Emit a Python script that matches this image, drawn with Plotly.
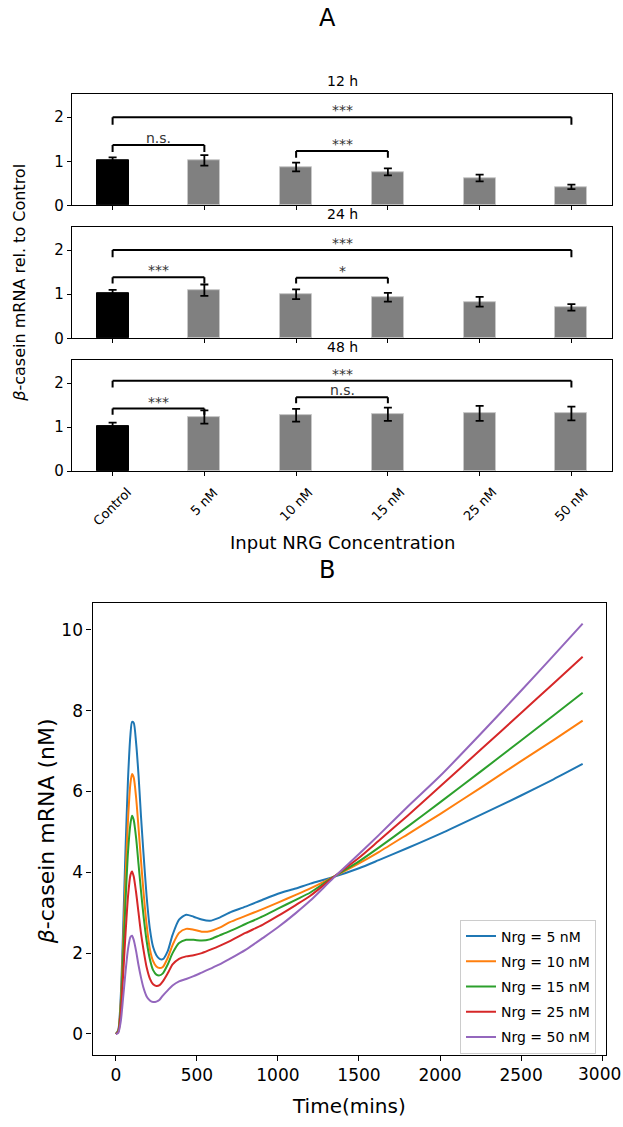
import plotly.graph_objects as go

W, H = 623, 1127
FONT = "DejaVu Sans"

# ---------------- Panel A data ----------------
categories = ["Control", "5 nM", "10 nM", "15 nM", "25 nM", "50 nM"]
timepoints = ["12 h", "24 h", "48 h"]

mean_12h = [1.02, 1.02, 0.87, 0.76, 0.62, 0.42]
err_12h = [0.07, 0.12, 0.10, 0.08, 0.075, 0.05]
mean_24h = [1.02, 1.09, 1.00, 0.93, 0.83, 0.70]
err_24h = [0.08, 0.13, 0.11, 0.10, 0.11, 0.075]
mean_48h = [1.03, 1.23, 1.27, 1.29, 1.31, 1.31]
err_48h = [0.07, 0.15, 0.145, 0.15, 0.17, 0.155]

# significance brackets: (from index, to index, top, leg bottom, label)
brackets_12h = [(0, 5, 2.00, 1.83, "***"), (0, 1, 1.37, 1.21, "n.s."), (2, 3, 1.23, 1.08, "***")]
brackets_24h = [(0, 5, 2.00, 1.84, "***"), (0, 1, 1.385, 1.24, "***"), (2, 3, 1.37, 1.24, "*")]
brackets_48h = [(0, 5, 2.05, 1.90, "***"), (0, 1, 1.42, 1.28, "***"), (2, 3, 1.68, 1.54, "n.s.")]

# ---------------- Panel B data ----------------
time_mins = [0, 15, 30, 45, 60, 75, 90, 100, 110, 125, 140, 155, 170, 190, 210, 230, 250, 270, 290,
             320, 350, 390, 434, 480, 530, 580, 640, 700, 800, 905, 1000, 1110, 1200, 1340, 1500,
             1622, 1800, 2000, 2250, 2500, 2700, 2880]
time_ticks = [0, 500, 1000, 1500, 2000, 2500, 3000]
nrg_labels = ["Nrg = 5 nM", "Nrg = 10 nM", "Nrg = 15 nM", "Nrg = 25 nM", "Nrg = 50 nM"]
mrna_5nM = [0, 0.1, 0.9, 2.6, 4.6, 6.3, 7.4, 7.72, 7.7, 7.2, 6.4, 5.4, 4.5, 3.4, 2.6, 2.15, 1.95, 1.86, 1.85,
            2.05, 2.45, 2.83, 2.95, 2.9, 2.83, 2.80, 2.88, 3.0, 3.15, 3.32, 3.47, 3.6, 3.72, 3.88, 4.10,
            4.30, 4.60, 4.95, 5.42, 5.90, 6.30, 6.68]
mrna_10nM = [0, 0.08, 0.75, 2.2, 3.9, 5.3, 6.2, 6.43, 6.35, 5.85, 5.1, 4.3, 3.55, 2.7, 2.1, 1.8, 1.67, 1.63, 1.66,
             1.88, 2.2, 2.5, 2.6, 2.58, 2.53, 2.54, 2.63, 2.76, 2.92, 3.09, 3.25, 3.44, 3.6, 3.88, 4.22,
             4.50, 4.94, 5.44, 6.09, 6.75, 7.27, 7.75]
mrna_15nM = [0, 0.07, 0.65, 1.9, 3.3, 4.5, 5.2, 5.4, 5.3, 4.85, 4.2, 3.55, 2.95, 2.3, 1.85, 1.58, 1.47, 1.45, 1.5,
             1.72, 2.0, 2.25, 2.33, 2.33, 2.31, 2.34, 2.44, 2.54, 2.72, 2.91, 3.1, 3.32, 3.5, 3.88, 4.27,
             4.61, 5.13, 5.73, 6.49, 7.26, 7.88, 8.44]
mrna_25nM = [0, 0.05, 0.5, 1.45, 2.5, 3.4, 3.93, 4.02, 3.9, 3.5, 3.0, 2.5, 2.1, 1.65, 1.37, 1.23, 1.19, 1.21, 1.3,
             1.5, 1.72, 1.86, 1.92, 1.95, 2.0, 2.08, 2.18, 2.29, 2.5, 2.7, 2.92, 3.19, 3.42, 3.87, 4.36,
             4.78, 5.40, 6.12, 7.03, 7.94, 8.67, 9.33]
mrna_50nM = [0, 0.03, 0.3, 0.9, 1.55, 2.1, 2.4, 2.43, 2.33, 2.05, 1.7, 1.4, 1.15, 0.93, 0.83, 0.79, 0.8, 0.85, 0.95,
             1.08, 1.2, 1.3, 1.36, 1.43, 1.52, 1.61, 1.72, 1.85, 2.08, 2.37, 2.64, 2.99, 3.3, 3.85, 4.45,
             4.92, 5.62, 6.38, 7.42, 8.49, 9.36, 10.15]
series_B = [mrna_5nM, mrna_10nM, mrna_15nM, mrna_25nM, mrna_50nM]
line_colors = ["#1f77b4", "#ff7f0e", "#2ca02c", "#d62728", "#9467bd"]


def px_x(x):
    return x / W


def px_y(y):
    return 1 - y / H


fig = go.Figure()

means = [mean_12h, mean_24h, mean_48h]
errs = [err_12h, err_24h, err_48h]
brackets = [brackets_12h, brackets_24h, brackets_48h]
xpos = list(range(len(categories)))
bar_colors = ["black"] + ["#808080"] * (len(categories) - 1)
edge_colors = ["black"] + ["#c8c8c8"] * (len(categories) - 1)

# pixel boxes (top, bottom) of the three bar panels
boxes = [(95, 207), (229, 341), (363, 475)]
xdomA = [px_x(72), px_x(612)]

shapes = []
annotations = []
axis_common = dict(showline=True, mirror=True, linecolor="black", linewidth=1.2, showgrid=False,
                   zeroline=False, ticks="outside", tickcolor="black", tickwidth=1.2)

for k in range(3):
    xa = "x" if k == 0 else f"x{k + 1}"
    ya = "y" if k == 0 else f"y{k + 1}"
    fig.add_trace(go.Bar(
        x=xpos, y=means[k], width=0.35,
        marker=dict(color=bar_colors, line=dict(color=edge_colors, width=1)),
        error_y=dict(type="data", array=errs[k], color="black", thickness=1.8, width=4),
        xaxis=xa, yaxis=ya, showlegend=False, hoverinfo="skip"))
    top, bot = boxes[k]
    xkey = "xaxis" if k == 0 else f"xaxis{k + 1}"
    ykey = "yaxis" if k == 0 else f"yaxis{k + 1}"
    fig.layout[xkey] = dict(axis_common, domain=xdomA, anchor=ya, range=[-0.4425, 5.4425],
                            tickvals=xpos, ticktext=categories, ticklen=4,
                            showticklabels=False)
    fig.layout[ykey] = dict(axis_common, domain=[px_y(bot), px_y(top)], anchor=xa, range=[0, 2.52],
                            tickvals=[0, 1, 2], ticklen=4,
                            tickfont=dict(family=FONT, size=15, color="black"))
    # subplot title
    annotations.append(dict(text=timepoints[k], x=px_x(342), y=px_y(top - 13), xref="paper", yref="paper",
                            xanchor="center", yanchor="middle", showarrow=False,
                            font=dict(family=FONT, size=14, color="black")))
    # brackets
    for (i, j, hgt, low, lab) in brackets[k]:
        xi, xj = xpos[i], xpos[j]
        for (x0, y0, x1, y1) in [(xi, low, xi, hgt), (xi, hgt, xj, hgt), (xj, hgt, xj, low)]:
            shapes.append(dict(type="line", xref=xa, yref=ya, x0=x0, y0=y0, x1=x1, y1=y1,
                               line=dict(color="black", width=2)))
        annotations.append(dict(text=lab, x=(xi + xj) / 2, y=hgt, xref=xa, yref=ya,
                                xanchor="center", yanchor="bottom", yshift=-3, showarrow=False,
                                font=dict(family=FONT, size=14, color="#333333")))

# rotated category labels, centred under each tick (bottom bar panel)
for i, cat in enumerate(categories):
    annotations.append(dict(text=cat, x=xpos[i], y=px_y(486), xref="x3", yref="paper",
                            xanchor="center", yanchor="top", textangle=-45, showarrow=False,
                            font=dict(family=FONT, size=13, color="black")))

# ---------------- Panel B ----------------
for name, vals, col in zip(nrg_labels, series_B, line_colors):
    fig.add_trace(go.Scatter(x=time_mins, y=vals, mode="lines", name=name, legendgroup=name,
                             line=dict(color=col, width=2, shape="spline", smoothing=0.7),
                             xaxis="x4", yaxis="y4", hoverinfo="skip"))

fig.layout["xaxis4"] = dict(axis_common, domain=[px_x(92.5), px_x(606)], anchor="y4", range=[-144, 3024],
                            tickvals=time_ticks, ticklen=5,
                            tickfont=dict(family=FONT, size=17, color="black"))
fig.layout["yaxis4"] = dict(axis_common, domain=[px_y(1063), px_y(608)], anchor="x4",
                            range=[-0.5075, 10.6575], tickvals=[0, 2, 4, 6, 8, 10], ticklen=5,
                            tickfont=dict(family=FONT, size=17, color="black"))

# last time tick label sits at the figure edge; plotly hides it, so place it right-aligned to the edge
annotations.append(dict(text=str(time_ticks[-1]), x=1, y=px_y(1071), xref="paper", yref="paper",
                        xanchor="right", yanchor="top", showarrow=False,
                        font=dict(family=FONT, size=17, color="black")))

# titles and axis labels
annotations += [
    dict(text="A", x=px_x(327), y=px_y(18), xref="paper", yref="paper", xanchor="center", yanchor="middle",
         showarrow=False, font=dict(family=FONT, size=24, color="black")),
    dict(text="B", x=px_x(327), y=px_y(575), xref="paper", yref="paper", xanchor="center", yanchor="middle",
         showarrow=False, font=dict(family=FONT, size=24, color="black")),
    dict(text="Input NRG Concentration", x=px_x(342), y=px_y(547), xref="paper", yref="paper",
         xanchor="center", yanchor="middle", showarrow=False, font=dict(family=FONT, size=18, color="black")),
    dict(text="<i>β</i>-casein mRNA rel. to Control", x=px_x(20), y=px_y(285), xref="paper", yref="paper",
         xanchor="center", yanchor="middle", textangle=-90, showarrow=False,
         font=dict(family=FONT, size=16, color="black")),
    dict(text="Time(mins)", x=px_x(349), y=px_y(1115), xref="paper", yref="paper",
         xanchor="center", yanchor="middle", showarrow=False, font=dict(family=FONT, size=20, color="black")),
    dict(text="<i>β</i>-casein mRNA (nM)", x=px_x(46), y=px_y(838), xref="paper", yref="paper",
         xanchor="center", yanchor="middle", textangle=-90, showarrow=False,
         font=dict(family=FONT, size=22, color="black")),
]

fig.update_layout(
    width=W, height=H, margin=dict(l=0, r=0, t=0, b=0),
    paper_bgcolor="white", plot_bgcolor="white",
    shapes=shapes, annotations=annotations, bargap=0,
    legend=dict(x=px_x(596), y=px_y(1062), xanchor="right", yanchor="bottom",
                bgcolor="rgba(255,255,255,0.85)", bordercolor="#cccccc", borderwidth=1,
                font=dict(family=FONT, size=14, color="black"), itemwidth=30,
                tracegroupgap=4),
)

fig.write_html("out.html")
